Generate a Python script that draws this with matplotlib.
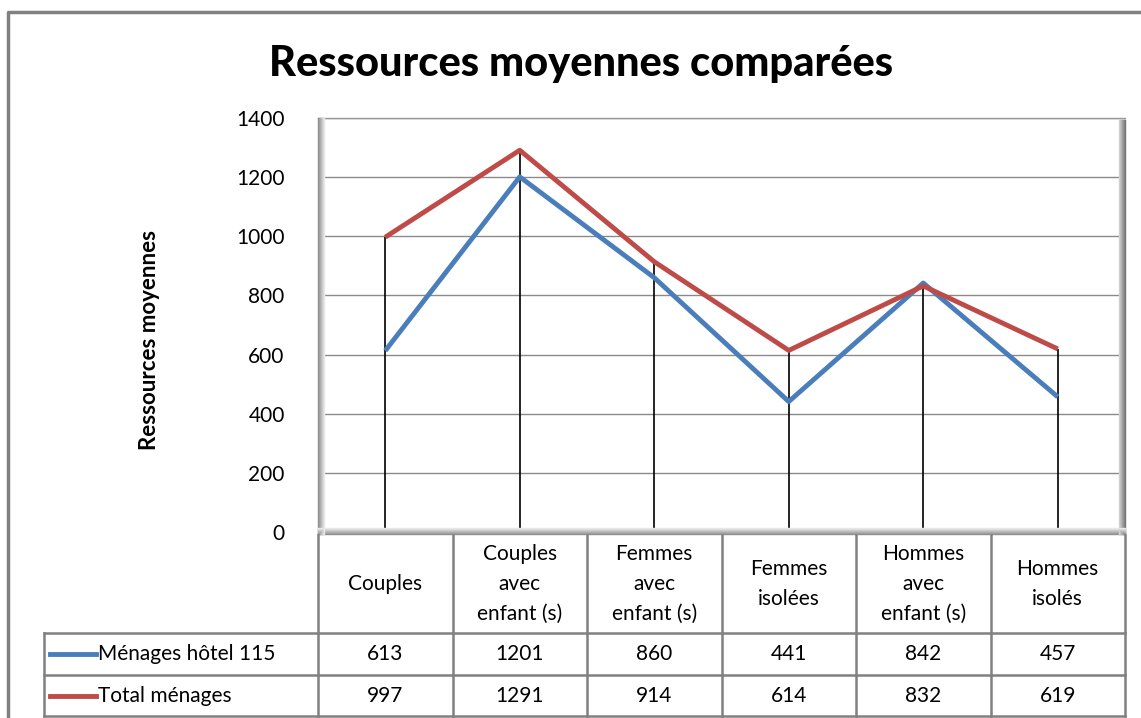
import matplotlib.pyplot as plt
from matplotlib.lines import Line2D

# moyennes des ressources par type de ménage
categories = ["Couples", "Couples\navec\nenfant (s)", "Femmes\navec\nenfant (s)",
              "Femmes\nisolées", "Hommes\navec\nenfant (s)", "Hommes\nisolés"]
hotel = [613, 1201, 860, 441, 842, 457]
total = [997, 1291, 914, 614, 832, 619]
series_names = ["Ménages hôtel 115", "Total ménages"]
yticks = [0, 200, 400, 600, 800, 1000, 1200, 1400]

blue = "#4A7EBB"
red = "#BE4B48"
grey = "#808080"

plt.rcParams['font.family'] = ['Lato', 'DejaVu Sans']

W, H = 1141, 718
fig = plt.figure(figsize=(W / 100, H / 100), dpi=100)

# plot area in pixels
px0, px1, py0, py1 = 318, 1125, 118, 532
ax = fig.add_axes([px0 / W, 1 - py1 / H, (px1 - px0) / W, (py1 - py0) / H])
x = list(range(len(categories)))
ax.set_xlim(-0.5, len(categories) - 0.5)
ax.set_ylim(0, 1400)
ax.set_yticks(yticks)
ax.set_yticklabels([str(v) for v in yticks], fontsize=15)
ax.tick_params(axis='y', length=0, pad=24)
ax.set_xticks([])
for s in ax.spines.values():
    s.set_visible(False)
ax.yaxis.grid(True, color="#8a8a8a", lw=1)
ax.set_axisbelow(True)

# lignes de projection
ax.vlines(x, 0, [max(a, b) for a, b in zip(hotel, total)], color="black", lw=1.2, zorder=2)
ax.plot(x, hotel, color=blue, lw=3.5, zorder=3, solid_capstyle='butt')
ax.plot(x, total, color=red, lw=3.5, zorder=4, solid_capstyle='butt')

ax.set_ylabel("Ressources moyennes", fontsize=16, fontweight='bold')
ax.yaxis.set_label_coords(-0.196, 0.464)

# overlay for frame, shading and data table (pixel coordinates)
ov = fig.add_axes([0, 0, 1, 1], facecolor='none')
ov.set_xlim(0, W)
ov.set_ylim(H, 0)
ov.axis('off')

# outer frame
ov.plot([8, 8, W + 5], [H + 5, 12, 12], color=grey, lw=2.5)

# plot area edges with a little shadow
ov.plot([px0, px1], [py0, py0], color="#9a9a9a", lw=1)
for i in range(7):
    g = 0.55 + i * 0.06
    ov.plot([px0 + i, px0 + i], [py0, py1 + 2], color=(g, g, g), lw=1)
    ov.plot([px1 - i, px1 - i], [py0 + 2, py1 + 2], color=(g - 0.1, g - 0.1, g - 0.1), lw=1)
    ov.plot([px0, px1], [py1 + 2 - i, py1 + 2 - i], color=(g, g, g), lw=1)

ov.text(581, 64, "Ressources moyennes comparées", fontsize=30, fontweight=900,
        ha='center', va='center')

# data table
cw = (px1 - px0) / len(categories)
top, r1, r2, bot = py1 + 3, 633, 675, 716
tleft = 44
for i in range(len(categories) + 1):
    xx = px0 + i * cw
    ov.plot([xx, xx], [top, bot], color=grey, lw=1.8)
ov.plot([tleft, tleft], [r1, bot], color=grey, lw=1.8)
for yy in (r1, r2, bot):
    ov.plot([tleft, px1], [yy, yy], color=grey, lw=1.8)

for i, name in enumerate(categories):
    xc = px0 + (i + 0.5) * cw
    ov.text(xc, (top + r1) / 2, name, fontsize=15, ha='center', va='center',
            multialignment='center', linespacing=1.6)
    ov.text(xc, (r1 + r2) / 2, str(hotel[i]), fontsize=15, ha='center', va='center')
    ov.text(xc, (r2 + bot) / 2, str(total[i]), fontsize=15, ha='center', va='center')

for (y0, y1), name, col in zip([(r1, r2), (r2, bot)], series_names, [blue, red]):
    yc = (y0 + y1) / 2
    ov.add_line(Line2D([50, 96], [yc, yc], color=col, lw=3.5))
    ov.text(98, yc, name, fontsize=15, ha='left', va='center')

fig.savefig("out.png", dpi=100)
